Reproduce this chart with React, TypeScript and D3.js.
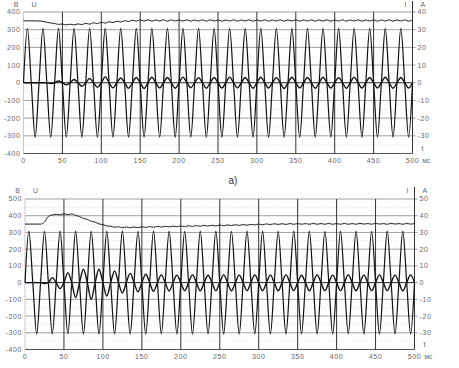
import React from 'react';
import * as d3 from 'd3';

// time axis (ms)
const timeTicks = [0, 50, 100, 150, 200, 250, 300, 350, 400, 450, 500];
const SAMPLE_MS = 5; // spacing of the read-off points (quarter period of 50 Hz)

// axis ticks
const voltTicksA = [400, 300, 200, 100, 0, -100, -200, -300, -400];
const ampTicksA = [40, 30, 20, 10, 0, -10, -20, -30];
const voltTicksB = [500, 400, 300, 200, 100, 0, -100, -200, -300, -400];
const ampTicksB = [50, 40, 30, 20, 10, 0, -10, -20, -30];

// panel a) — half-cycle extremes of the voltage (V), read at t = 5, 15, 25 ... ms
const uPeaksA = [
  308, -307, 308, -308, 307, -308, 308, -307, 308, -308,
  307, -308, 308, -307, 308, -308, 307, -308, 308, -307,
  308, -308, 307, -308, 308, -307, 308, -308, 307, -308,
  308, -307, 308, -308, 307, -308, 308, -307, 308, -308,
  307, -308, 308, -307, 308, -308, 307, -308, 308, -307,
];
// panel a) — half-cycle extremes of the current (A)
const iPeaksA = [
  0, 0, 0, -0.4, 1.0, -1.2, 1.8, -2.0, 2.4, -2.6,
  3.3, -2.9, 2.7, -3.1, 3.0, -3.2, 3.1, -2.9, 3.0, -3.1,
  3.2, -2.8, 2.9, -3.1, 3.0, -3.0, 3.2, -2.9, 3.0, -3.1,
  3.1, -3.0, 2.9, -3.2, 3.1, -2.9, 3.0, -3.1, 3.1, -3.0,
  2.9, -3.1, 3.2, -3.0, 3.0, -2.9, 3.1, -3.1, 3.0, -3.0,
];
// panel a) — rms envelope (V), every 5 ms from 0 to 500
const rmsA = [
  350, 350, 350, 350, 349, 347, 342, 338, 335, 330,
  332, 327, 331, 327, 333, 329, 336, 331, 339, 334,
  342, 337, 345, 340, 348, 343, 351, 346, 354, 348,
  356, 349, 356, 348, 355, 349, 356, 348, 356, 349,
  355, 349, 356, 348, 355, 349, 356, 348, 356, 349,
  355, 348, 355, 349, 356, 348, 355, 349, 356, 348,
  355, 349, 356, 348, 355, 349, 356, 348, 355, 349,
  356, 348, 355, 349, 356, 348, 355, 349, 356, 348,
  355, 349, 356, 348, 355, 349, 356, 348, 355, 349,
  356, 348, 355, 349, 356, 348, 355, 349, 356, 348,
  355,
];

// panel b)
const uPeaksB = [
  308, -308, 307, -308, 308, -307, 308, -308, 307, -308,
  308, -307, 308, -308, 307, -308, 308, -307, 308, -308,
  307, -308, 308, -307, 308, -308, 307, -308, 308, -307,
  308, -308, 307, -308, 308, -307, 308, -308, 307, -308,
  308, -307, 308, -308, 307, -308, 308, -307, 308, -308,
];
const iPeaksB = [
  0, 0, -0.5, 3.0, -3.6, 6.0, -9.0, 8.0, -10.0, 8.0,
  -8.0, 7.0, -6.2, 5.5, -5.5, 5.0, -5.2, 4.6, -5.0, 4.5,
  -4.8, 4.6, -4.9, 4.4, -4.8, 4.6, -4.9, 4.5, -4.8, 4.6,
  -4.8, 4.5, -4.9, 4.6, -4.8, 4.4, -4.9, 4.6, -4.8, 4.5,
  -4.8, 4.6, -4.9, 4.5, -4.8, 4.6, -4.8, 4.5, -4.9, 4.6,
];
const rmsB = [
  350, 350, 350, 350, 350, 362, 396, 404, 409, 405,
  412, 407, 411, 402, 395, 384, 378, 367, 362, 351,
  347, 339, 337, 331, 334, 328, 333, 328, 333, 329,
  334, 330, 335, 331, 336, 332, 337, 333, 338, 334,
  339, 335, 340, 336, 341, 337, 342, 338, 343, 339,
  344, 340, 345, 341, 346, 342, 347, 343, 348, 345,
  350, 346, 351, 347, 352, 348, 352, 348, 353, 349,
  353, 349, 353, 349, 354, 349, 353, 349, 354, 349,
  353, 349, 354, 349, 353, 349, 354, 350, 353, 349,
  354, 350, 353, 349, 354, 350, 353, 349, 354, 350,
  353,
];

type Pt = [number, number];

function wavePoints(peaks: number[]): Pt[] {
  const pts: Pt[] = [];
  peaks.forEach((p, k) => {
    pts.push([k * 2 * SAMPLE_MS, 0]);
    pts.push([k * 2 * SAMPLE_MS + SAMPLE_MS, p]);
  });
  pts.push([peaks.length * 2 * SAMPLE_MS, 0]);
  return pts;
}

function seriesPoints(vals: number[]): Pt[] {
  return vals.map((v, i) => [i * SAMPLE_MS, v] as Pt);
}

type PanelProps = {
  x0: number; x1: number;
  yTop: number; yBot: number;
  headerY: number;
  vTicks: number[]; aTicks: number[];
  vDomain: [number, number]; aDomain: [number, number];
  uPeaks: number[]; iPeaks: number[]; rms: number[];
};

const FONT = 'Liberation Sans, Arial, sans-serif';
const LABEL = '#666';

function Panel(p: PanelProps) {
  const x = d3.scaleLinear().domain([0, 500]).range([p.x0, p.x1]);
  const yV = d3.scaleLinear().domain(p.vDomain).range([p.yBot, p.yTop]);
  const yA = d3.scaleLinear().domain(p.aDomain).range([p.yBot, p.yTop]);

  const lineV = d3.line<Pt>().x(d => x(d[0])).y(d => yV(d[1])).curve(d3.curveMonotoneX);
  const lineA = d3.line<Pt>().x(d => x(d[0])).y(d => yA(d[1])).curve(d3.curveMonotoneX);

  const half: number[] = [];
  for (let i = 0; i < p.vTicks.length - 1; i++) half.push((p.vTicks[i] + p.vTicks[i + 1]) / 2);

  const xLabelY = p.yBot + 7;

  return (
    <g>
      {/* faint dotted background rows */}
      {half.map(v => (
        <line key={'h' + v} x1={p.x0} x2={p.x1} y1={yV(v)} y2={yV(v)}
          stroke="#d4d4d4" strokeWidth={0.8} strokeDasharray="1,2" />
      ))}
      {/* horizontal grid */}
      {p.vTicks.map(v => (
        <line key={'g' + v} x1={p.x0} x2={p.x1} y1={yV(v)} y2={yV(v)}
          stroke={v === 0 ? '#222' : v === p.vTicks[p.vTicks.length - 1] ? '#555' : '#a0a0a0'}
          strokeWidth={1} />
      ))}
      {/* vertical grid */}
      {timeTicks.slice(1, -1).map(t => (
        <line key={'vg' + t} x1={x(t)} x2={x(t)} y1={p.yTop} y2={p.yBot}
          stroke="#333" strokeWidth={1} />
      ))}
      {/* left axis */}
      <line x1={p.x0} x2={p.x0} y1={p.yTop} y2={p.yBot} stroke="#bbb" strokeWidth={0.8} />
      {/* right axis */}
      <line x1={p.x1} x2={p.x1} y1={p.headerY - 6} y2={p.yBot} stroke="#333" strokeWidth={1} />
      {/* left tick labels */}
      {p.vTicks.map(v => (
        <text key={'lv' + v} x={p.x0 - 3} y={yV(v)} dy="0.35em" textAnchor="end"
          fontSize={7} fill={LABEL} fontFamily={FONT} letterSpacing={0.6}>{v}</text>
      ))}
      {/* right ticks and labels */}
      {p.aTicks.map(a => (
        <g key={'ra' + a}>
          <line x1={p.x1} x2={p.x1 + 3} y1={yA(a)} y2={yA(a)} stroke="#777" strokeWidth={0.8} />
          <text x={p.x1 + 5} y={yA(a)} dy="0.35em" fontSize={7} fill={LABEL}
            fontFamily={FONT} letterSpacing={0.6}>{a}</text>
        </g>
      ))}
      <text x={p.x1 + 9} y={p.yBot - 3} fontSize={7} fill={LABEL} fontFamily={FONT}>t</text>
      {/* x tick labels */}
      {timeTicks.map(t => (
        <text key={'xt' + t} x={x(t)} y={xLabelY} dy="0.35em" textAnchor="middle"
          fontSize={7} fill={LABEL} fontFamily={FONT} letterSpacing={0.6}>{t}</text>
      ))}
      <text x={p.x1 + 10} y={xLabelY} dy="0.35em" fontSize={6.5} fill={LABEL} fontFamily={FONT}>мс</text>
      {/* headers */}
      <text x={p.x0 - 5} y={p.headerY} textAnchor="end" fontSize={7} fill={LABEL} fontFamily={FONT}>В</text>
      <text x={p.x0 + 8} y={p.headerY} fontSize={7} fill={LABEL} fontFamily={FONT}>U</text>
      <text x={p.x1 - 8} y={p.headerY} fontSize={7} fill={LABEL} fontFamily={FONT}>I</text>
      <text x={p.x1 + 8} y={p.headerY} fontSize={7} fill={LABEL} fontFamily={FONT}>А</text>
      {/* signals */}
      <path d={lineV(wavePoints(p.uPeaks)) || ''} fill="none" stroke="#111" strokeWidth={1.2} />
      <path d={lineA(wavePoints(p.iPeaks)) || ''} fill="none" stroke="#111" strokeWidth={1.4} />
      <path d={lineV(seriesPoints(p.rms)) || ''} fill="none" stroke="#222" strokeWidth={1} />
    </g>
  );
}

export default function App() {
  return (
    <svg width={459} height={368} style={{ position: 'absolute', left: 0, top: 0, background: '#fff' }}>
      <rect x={0} y={0} width={459} height={368} fill="#fff" />
      <Panel x0={23.5} x1={412.5} yTop={12} yBot={153.5} headerY={7}
        vTicks={voltTicksA} aTicks={ampTicksA} vDomain={[-400, 400]} aDomain={[-40, 40]}
        uPeaks={uPeaksA} iPeaks={iPeaksA} rms={rmsA} />
      <text x={233} y={184} textAnchor="middle" fontSize={10} fill="#334" fontFamily={FONT}>a)</text>
      <Panel x0={25} x1={414.5} yTop={199} yBot={349.5} headerY={193}
        vTicks={voltTicksB} aTicks={ampTicksB} vDomain={[-400, 500]} aDomain={[-40, 50]}
        uPeaks={uPeaksB} iPeaks={iPeaksB} rms={rmsB} />
    </svg>
  );
}
